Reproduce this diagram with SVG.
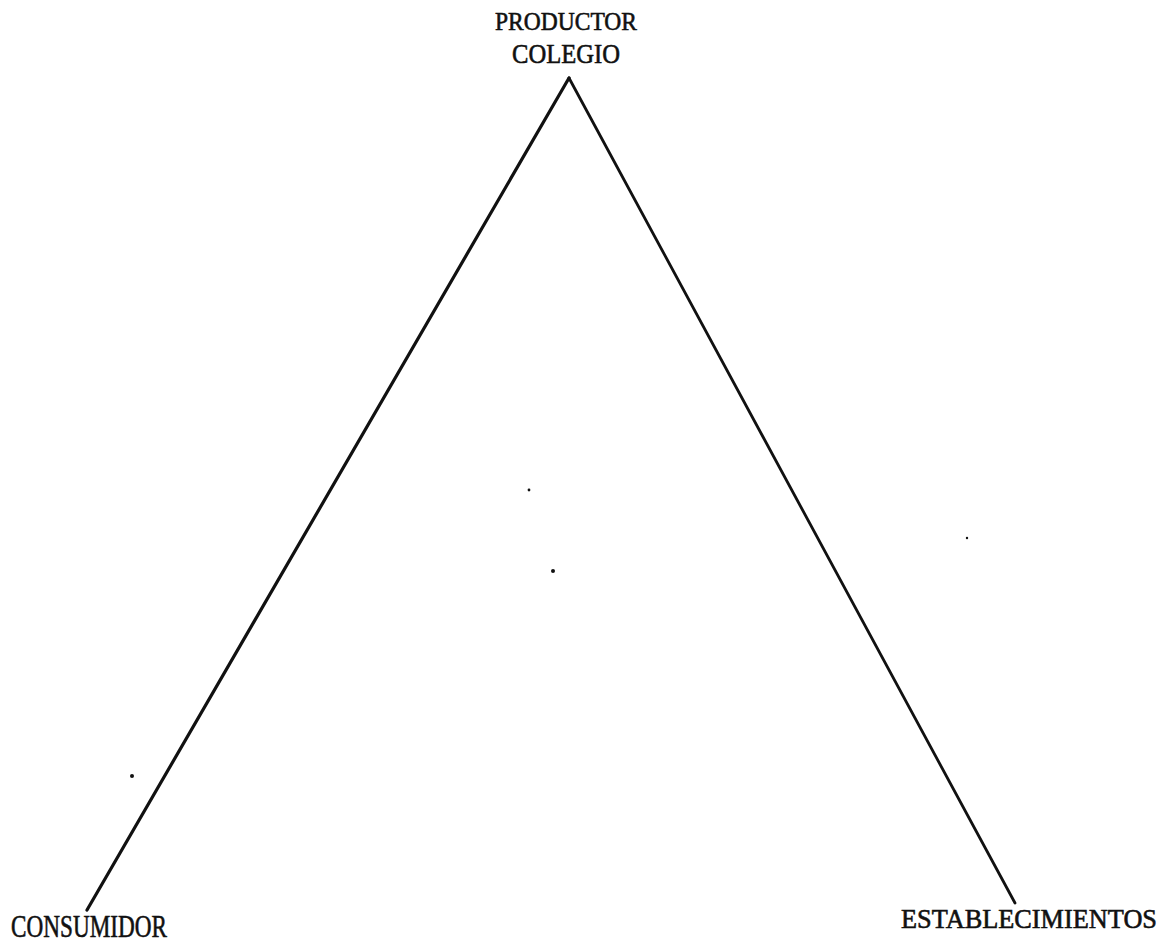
<svg xmlns="http://www.w3.org/2000/svg" width="1167" height="943" viewBox="0 0 1167 943">
<style>
.lbl{font-family:"Liberation Serif","DejaVu Serif",serif;fill:#111;stroke:#111;stroke-width:0.6;}
.edge{stroke:#111;fill:none;stroke-linecap:round;}
.dot{fill:#111;}
</style>
<rect width="1167" height="943" fill="#fff"/>
<g id="connectors">
<line class="edge" x1="569" y1="78" x2="87" y2="910" stroke-width="3.2"/>
<line class="edge" x1="569" y1="78" x2="1015" y2="903" stroke-width="2.8"/>
</g>
<g id="node-productor">
<text class="lbl" x="495" y="30" font-size="26" textLength="142" lengthAdjust="spacingAndGlyphs">PRODUCTOR</text>
<text class="lbl" x="512" y="63" font-size="28" textLength="108" lengthAdjust="spacingAndGlyphs">COLEGIO</text>
</g>
<g id="node-consumidor">
<text class="lbl" x="11" y="937" font-size="31" textLength="156" lengthAdjust="spacingAndGlyphs">CONSUMIDOR</text>
</g>
<g id="node-establecimientos">
<text class="lbl" x="901" y="928" font-size="27" textLength="256" lengthAdjust="spacingAndGlyphs">ESTABLECIMIENTOS</text>
</g>
<g id="specks">
<circle class="dot" cx="529" cy="490" r="1.4"/>
<circle class="dot" cx="553" cy="571" r="2"/>
<circle class="dot" cx="132" cy="776" r="2"/>
<circle class="dot" cx="967" cy="538" r="1.2"/>
</g>
</svg>
